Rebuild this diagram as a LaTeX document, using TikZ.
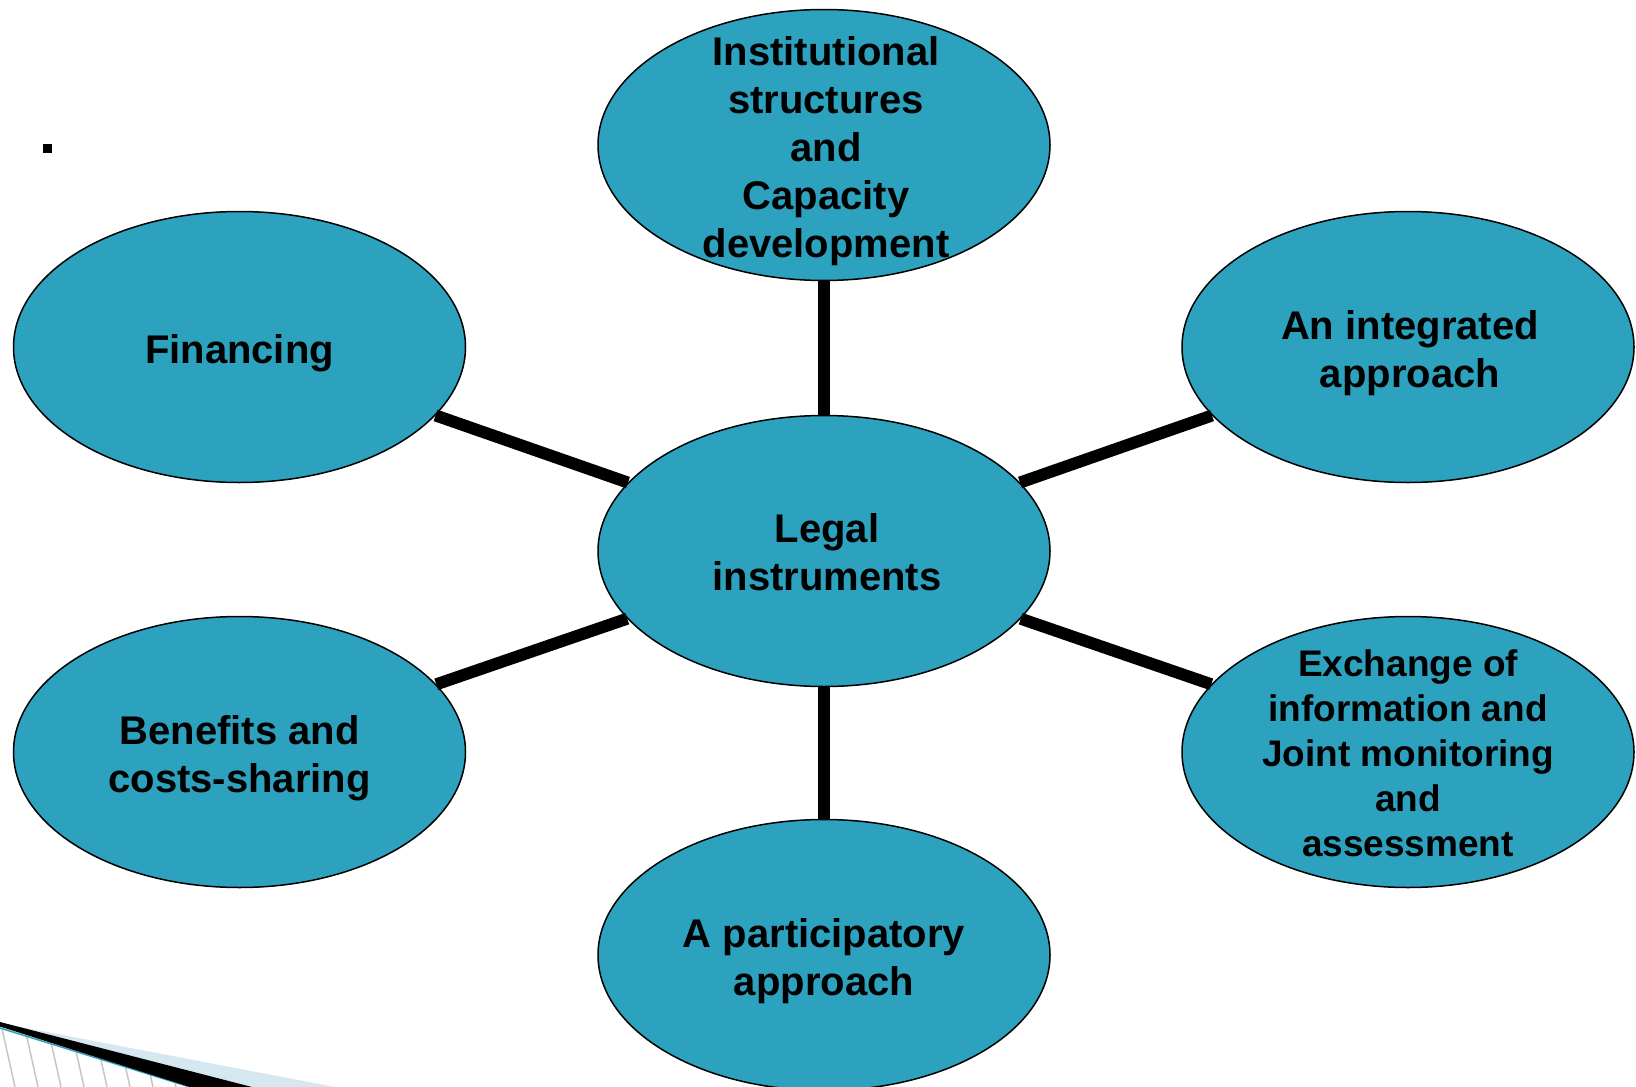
\documentclass[tikz,border=0pt]{standalone}
\usepackage{fontspec}
\setmainfont{Liberation Sans}
\usetikzlibrary{shapes.geometric}
\definecolor{tealfill}{HTML}{2DA2BF}
\definecolor{lightbl}{HTML}{D5E8F0}
\begin{document}
\begin{tikzpicture}[x=1pt,y=-1pt,
  bubble/.style={ellipse, draw=black, line width=1.5pt, fill=tealfill,
    minimum width=452pt, minimum height=271pt, inner sep=0pt},
  bubbletext/.style={align=center, inner sep=0pt,
    font=\fontsize{40}{48}\selectfont\bfseries},
  smalltext/.style={align=center, inner sep=0pt,
    font=\fontsize{37}{45}\selectfont\bfseries},
  link/.style={line width=12pt}]
\useasboundingbox (0,0) rectangle (1636,1087);
\clip (0,0) rectangle (1636,1087);
% ellipses
\node[bubble] (c) at (824,551) {};
\node[bubble] (t) at (824,145) {};
\node[bubble] (f) at (239.5,347) {};
\node[bubble] (a) at (1408,347) {};
\node[bubble] (b) at (239.5,752) {};
\node[bubble] (e) at (1408,752) {};
\node[bubble] (p) at (824,955) {};
% connectors
\draw[link] (c) -- (t);
\draw[link] (c) -- (f);
\draw[link] (c) -- (a);
\draw[link] (c) -- (b);
\draw[link] (c) -- (e);
\draw[link] (c) -- (p);
% texts
\node[bubbletext] (tc) at ([xshift=3pt,yshift=-1.5pt]c.center) {Legal\\instruments};
\node[bubbletext] (tt) at ([xshift=2pt,yshift=-6pt]t.center) {Institutional\\structures\\and\\Capacity\\development};
\node[bubbletext] (tf) at ([yshift=-6pt]f.center) {Financing};
\node[bubbletext] (ta) at ([xshift=2pt,yshift=-6pt]a.center) {An integrated\\approach};
\node[bubbletext] (tb) at ([yshift=-6pt]b.center) {Benefits and\\costs-sharing};
\node[smalltext] (te) at ([yshift=-1.5pt]e.center) {Exchange of\\information and\\Joint monitoring\\and\\assessment};
\node[bubbletext] (tp) at ([yshift=-6pt]p.center) {A participatory\\approach};
% bullet square
\fill (43,144) rectangle (52,153);
% bottom-left decoration
\fill[lightbl] (0,1023) -- (335,1087) -- (0,1087) -- cycle;
\begin{scope}
  \clip (0,1027) -- (192,1087) -- (0,1087) -- cycle;
  \fill[white] (0,1020) rectangle (200,1087);
  \foreach \i in {-70,-47,...,200} \draw[gray!45, line width=1.5pt] (\i,1015) -- (\i+16,1087);
\end{scope}
\draw[tealfill, line width=1.5pt] (0,1028) -- (190,1087);
\fill (0,1022) -- (252,1087) -- (190,1087) -- (0,1026.5) -- cycle;
\end{tikzpicture}
\end{document}
